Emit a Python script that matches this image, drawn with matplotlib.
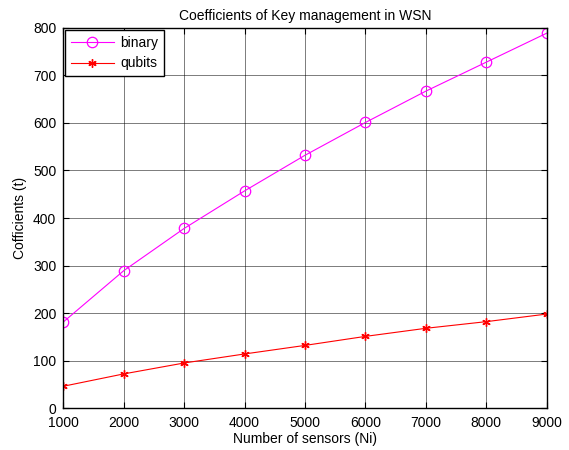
import matplotlib
matplotlib.use('Agg')
import matplotlib.pyplot as plt

sensors = [1000, 2000, 3000, 4000, 5000, 6000, 7000, 8000, 9000]
binary = [181, 289, 378, 457, 532, 601, 667, 728, 789]
qubits = [46, 72, 95, 114, 132, 151, 168, 182, 198]

plt.rcParams['font.family'] = ['Liberation Sans', 'DejaVu Sans']
plt.rcParams['font.size'] = 10

fig = plt.figure(figsize=(5.69, 4.5), dpi=100)
ax = fig.add_axes([0.111, 0.093, 0.85, 0.845])
ax.plot(sensors, binary, color='magenta', marker='o', markersize=7.5,
        markerfacecolor='none', markeredgewidth=0.9, linewidth=0.8, label='binary')
ax.plot(sensors, qubits, color='red', marker=(6, 2, 0), markersize=6,
        markeredgewidth=1.0, linewidth=0.8, label='qubits')
ax.set_xlim(1000, 9000)
ax.set_ylim(0, 800)
ax.set_xticks(sensors)
ax.set_yticks(range(0, 801, 100))
ax.grid(True, color='black', linewidth=0.6, alpha=0.6)
ax.tick_params(direction='in', top=True, right=True, length=4, labelsize=10)
ax.tick_params(axis='x', pad=6)
ax.tick_params(axis='y', pad=5)
for s in ax.spines.values():
    s.set_linewidth(1.0)
ax.set_title('Coefficients of Key management in WSN', fontsize=10, pad=6)
ax.set_xlabel('Number of sensors (Ni)', labelpad=1)
ax.set_ylabel('Cofficients (t)')
leg = ax.legend(loc='upper left', fancybox=False, edgecolor='black',
                framealpha=1, borderaxespad=0.15, handlelength=3.1,
                handletextpad=0.45, borderpad=0.4)
leg.get_frame().set_linewidth(1.0)
fig.savefig('out.png', dpi=100)
